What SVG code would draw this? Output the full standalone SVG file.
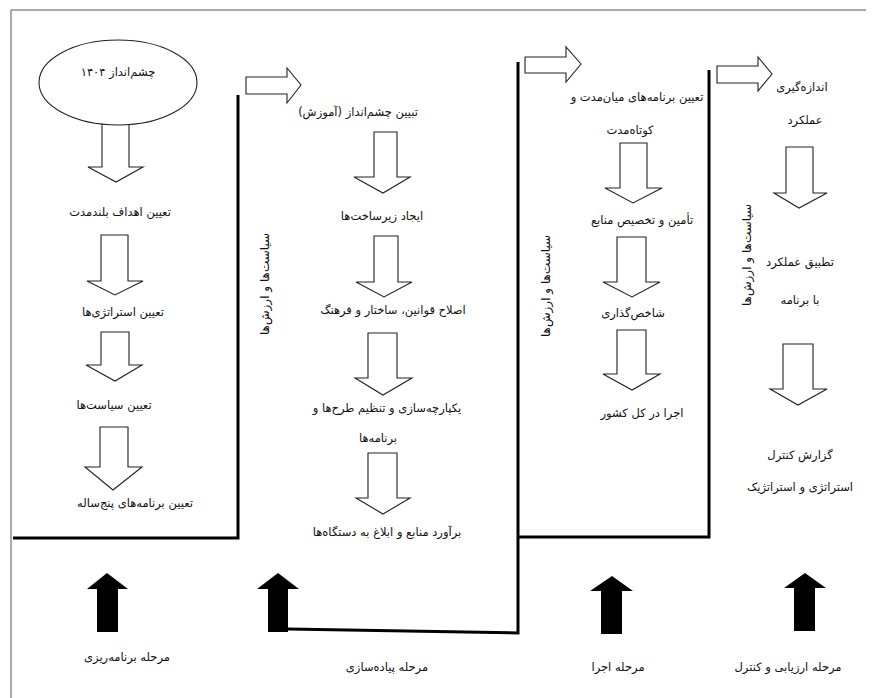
<svg xmlns="http://www.w3.org/2000/svg" width="875" height="698" viewBox="0 0 875 698">
<style>
text{font-family:"DejaVu Sans","Noto Sans",sans-serif;font-size:11.5px;fill:#111;text-anchor:middle;direction:rtl;unicode-bidi:embed}
.ha{fill:#fff;stroke:#222;stroke-width:1.1}
.ba{fill:#000;stroke:none}
.wall{fill:none;stroke:#000;stroke-width:3}
.frame{fill:none;stroke:#555;stroke-width:1}
.vt{font-size:12px}
</style>
<rect width="875" height="698" fill="#fff"/>
<path class="frame" d="M11,698 L11,10 L866,10"/>
<g id="connectors">
<path class="wall" d="M13,538 L238,538 L238,95"/>
<path class="wall" d="M288,629 L518,633 L518,62"/>
<path class="wall" d="M518,537 L709,537 L709,70"/>
<polygon class="ha" points="246,77 287,77 287,68 301,85 287,103 287,94 246,94"/>
<polygon class="ha" points="525,57 566,57 566,47 581,64 566,82 566,73 525,73"/>
<polygon class="ha" points="717,66 758,66 758,57 772,74 758,91 758,83 717,83"/>
<polygon class="ha" points="102,121 129,121 129,167 143,167 116,182 88,167 102,167"/>
<polygon class="ha" points="101,235 128,235 128,281 143,281 115,295 87,281 101,281"/>
<polygon class="ha" points="101,332 129,332 129,365 142,365 115,381 86,365 101,365"/>
<polygon class="ha" points="100,427 128,427 128,467 142,467 113,490 85,467 100,467"/>
<polygon class="ha" points="374,132 397,132 397,177 410,177 383,193 354,177 374,177"/>
<polygon class="ha" points="374,236 398,236 398,282 412,282 384,297 356,282 374,282"/>
<polygon class="ha" points="368,333 397,333 397,378 412,378 383,395 355,378 368,378"/>
<polygon class="ha" points="368,453 397,453 397,498 410,498 383,514 356,498 368,498"/>
<polygon class="ha" points="620,143 647,143 647,188 662,188 633,203 605,188 620,188"/>
<polygon class="ha" points="617,237 646,237 646,282 660,282 632,297 603,282 617,282"/>
<polygon class="ha" points="617,330 646,330 646,374 660,374 632,390 603,374 617,374"/>
<polygon class="ha" points="786,147 813,147 813,193 827,193 799,208 774,193 786,193"/>
<polygon class="ha" points="783,344 813,344 813,389 827,389 798,405 770,389 783,389"/>
<polygon class="ba" points="97,632 97,589 87,589 107,573 128,589 118,589 118,632"/>
<polygon class="ba" points="268,632 268,589 257,589 278,573 299,589 288,589 288,632"/>
<polygon class="ba" points="601,634 601,591 590,591 612,576 633,591 622,591 622,634"/>
<polygon class="ba" points="794,631 794,588 784,588 805,573 826,588 815,588 815,631"/>
</g>
<g id="vision">
<ellipse cx="118" cy="82.5" rx="79" ry="42.5" fill="#fff" stroke="#222" stroke-width="1.1"/>
<text x="118" y="76">چشم&#x200C;انداز ۱۴۰۴</text>
</g>
<g id="plan-goals"><text x="120" y="216">تعیین اهداف بلندمدت</text></g>
<g id="plan-strategies"><text x="123" y="316">تعیین استراتژی&#x200C;ها</text></g>
<g id="plan-policies"><text x="114" y="409">تعیین سیاست&#x200C;ها</text></g>
<g id="plan-programs"><text x="135" y="507">تعیین برنامه&#x200C;های پنج&#x200C;ساله</text></g>
<g id="impl-vision"><text x="358" y="116">تبیین چشم&#x200C;انداز (آموزش)</text></g>
<g id="impl-infra"><text x="382" y="220">ایجاد زیرساخت&#x200C;ها</text></g>
<g id="impl-reform"><text x="393" y="314">اصلاح قوانین، ساختار و فرهنگ</text></g>
<g id="impl-integrate"><text x="387" y="412">یکپارچه&#x200C;سازی و تنظیم طرح&#x200C;ها و</text><text x="378" y="442">برنامه&#x200C;ها</text></g>
<g id="impl-resources"><text x="387" y="536">برآورد منابع و ابلاغ به دستگاه&#x200C;ها</text></g>
<g id="impl-values"><text class="vt" transform="translate(269,284) rotate(-90)">سیاست&#x200C;ها و ارزش&#x200C;ها</text></g>
<g id="exec-programs"><text x="637" y="101">تعیین برنامه&#x200C;های میان&#x200C;مدت و</text><text x="630" y="134">کوتاه&#x200C;مدت</text></g>
<g id="exec-resources"><text x="642" y="224">تأمین و تخصیص منابع</text></g>
<g id="exec-indicators"><text x="633" y="317">شاخص&#x200C;گذاری</text></g>
<g id="exec-run"><text x="642" y="417">اجرا در کل کشور</text></g>
<g id="exec-values"><text class="vt" transform="translate(550,286) rotate(-90)">سیاست&#x200C;ها و ارزش&#x200C;ها</text></g>
<g id="eval-measure"><text x="802" y="91">اندازه&#x200C;گیری</text><text x="805" y="124">عملکرد</text></g>
<g id="eval-match"><text x="800" y="266">تطبیق عملکرد</text><text x="800" y="304">با برنامه</text></g>
<g id="eval-report"><text x="800" y="459">گزارش کنترل</text><text x="800" y="491">استراتژی و استراتژیک</text></g>
<g id="eval-values"><text class="vt" transform="translate(751,255) rotate(-90)">سیاست&#x200C;ها و ارزش&#x200C;ها</text></g>
<g id="phase-plan"><text x="127" y="661">مرحله برنامه&#x200C;ریزی</text></g>
<g id="phase-impl"><text x="387" y="671">مرحله پیاده&#x200C;سازی</text></g>
<g id="phase-exec"><text x="618" y="671">مرحله اجرا</text></g>
<g id="phase-eval"><text x="788" y="671">مرحله ارزیابی و کنترل</text></g>
</svg>
